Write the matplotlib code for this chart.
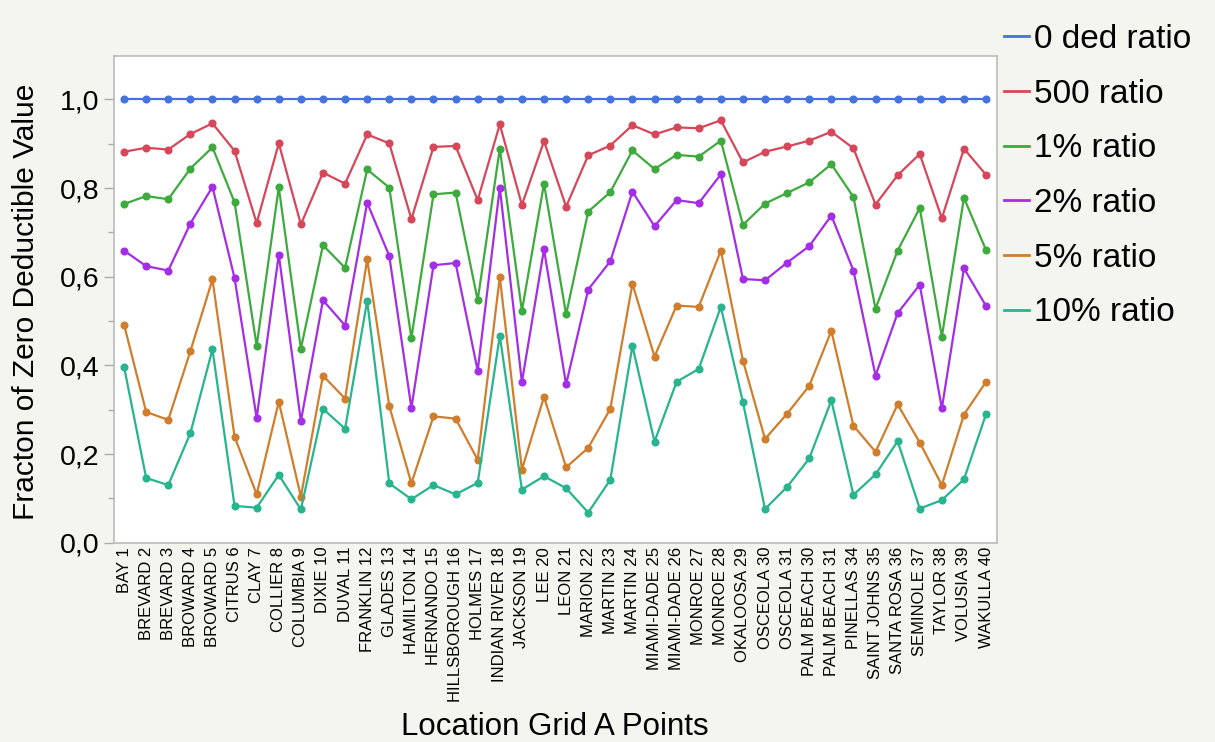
import numpy as np
import matplotlib
matplotlib.use("Agg")
import matplotlib.pyplot as plt
from matplotlib.ticker import FuncFormatter, MultipleLocator

plt.rcParams['font.family'] = ['Liberation Sans', 'DejaVu Sans']

locations = ["BAY 1", "BREVARD 2", "BREVARD 3", "BROWARD 4", "BROWARD 5", "CITRUS 6",
             "CLAY 7", "COLLIER 8", "COLUMBIA 9", "DIXIE 10", "DUVAL 11", "FRANKLIN 12",
             "GLADES 13", "HAMILTON 14", "HERNANDO 15", "HILLSBOROUGH 16", "HOLMES 17",
             "INDIAN RIVER 18", "JACKSON 19", "LEE 20", "LEON 21", "MARION 22", "MARTIN 23",
             "MARTIN 24", "MIAMI-DADE 25", "MIAMI-DADE 26", "MONROE 27", "MONROE 28",
             "OKALOOSA 29", "OSCEOLA 30", "OSCEOLA 31", "PALM BEACH 30", "PALM BEACH 31",
             "PINELLAS 34", "SAINT JOHNS 35", "SANTA ROSA 36", "SEMINOLE 37", "TAYLOR 38",
             "VOLUSIA 39", "WAKULLA 40"]

ded0 = [1.0] * 40
ded500 = [0.882, 0.891, 0.887, 0.922, 0.946, 0.884, 0.721, 0.901, 0.718, 0.835,
          0.810, 0.921, 0.901, 0.730, 0.893, 0.895, 0.773, 0.944, 0.762, 0.906,
          0.758, 0.874, 0.896, 0.942, 0.921, 0.937, 0.935, 0.953, 0.858, 0.882,
          0.894, 0.907, 0.927, 0.890, 0.763, 0.829, 0.877, 0.732, 0.889, 0.830]
ded1 = [0.764, 0.782, 0.775, 0.844, 0.892, 0.768, 0.444, 0.802, 0.438, 0.671,
        0.620, 0.842, 0.801, 0.462, 0.786, 0.790, 0.547, 0.889, 0.523, 0.810,
        0.515, 0.747, 0.791, 0.885, 0.843, 0.875, 0.871, 0.907, 0.717, 0.765,
        0.789, 0.813, 0.854, 0.780, 0.528, 0.659, 0.755, 0.465, 0.778, 0.660]
ded2 = [0.659, 0.624, 0.614, 0.720, 0.803, 0.597, 0.281, 0.650, 0.274, 0.547,
        0.490, 0.767, 0.647, 0.304, 0.626, 0.631, 0.388, 0.801, 0.362, 0.662,
        0.357, 0.571, 0.635, 0.792, 0.714, 0.773, 0.766, 0.831, 0.595, 0.592,
        0.632, 0.669, 0.738, 0.614, 0.377, 0.518, 0.582, 0.303, 0.619, 0.534]
ded5 = [0.492, 0.295, 0.277, 0.432, 0.594, 0.239, 0.109, 0.318, 0.104, 0.377,
        0.325, 0.639, 0.308, 0.134, 0.285, 0.280, 0.187, 0.600, 0.165, 0.329,
        0.170, 0.214, 0.302, 0.584, 0.420, 0.535, 0.532, 0.659, 0.411, 0.234,
        0.291, 0.354, 0.478, 0.264, 0.205, 0.312, 0.226, 0.130, 0.289, 0.363]
ded10 = [0.397, 0.146, 0.130, 0.247, 0.436, 0.083, 0.079, 0.153, 0.075, 0.302,
         0.257, 0.546, 0.134, 0.098, 0.130, 0.109, 0.135, 0.467, 0.120, 0.150,
         0.123, 0.068, 0.142, 0.444, 0.228, 0.363, 0.392, 0.532, 0.317, 0.076,
         0.126, 0.190, 0.321, 0.108, 0.154, 0.229, 0.077, 0.096, 0.143, 0.290]

series = [("0 ded ratio", ded0, "#4572DE"),
          ("500 ratio", ded500, "#D6475A"),
          ("1% ratio", ded1, "#3DAA3D"),
          ("2% ratio", ded2, "#A32EE6"),
          ("5% ratio", ded5, "#D07D2C"),
          ("10% ratio", ded10, "#27B48E")]

fig = plt.figure(figsize=(12.15, 7.42), dpi=100, facecolor="#F5F5F0")
ax = fig.add_axes([0.0941, 0.2686, 0.7262, 0.6559])
ax.set_facecolor("white")

x = np.arange(len(locations))
for name, vals, col in series:
    ax.plot(x, vals, color=col, lw=1.6, marker="o", ms=4.8, label=name)

ax.set_xlim(-0.44, 39.48)
ax.set_ylim(0, 1.098)
ax.yaxis.set_major_locator(MultipleLocator(0.2))
ax.yaxis.set_minor_locator(MultipleLocator(0.1))
ax.yaxis.set_major_formatter(FuncFormatter(lambda v, p: f"{v:.1f}".replace(".", ",")))
ax.tick_params(axis="y", which="major", length=7, width=1, color="#AAAAAA",
               labelsize=20.5, pad=4)
ax.tick_params(axis="y", which="minor", length=4, width=1, color="#AAAAAA")

ax.set_xticks(x)
ax.set_xticklabels(locations, rotation=90, fontsize=12, va="top")
ax.tick_params(axis="x", length=0, pad=3)

for s in ax.spines.values():
    s.set_color("#BBBBBB")
    s.set_linewidth(1.2)

ax.set_ylabel("Fracton of Zero Deductible Value", fontsize=21.5)
ax.yaxis.set_label_coords(-0.084, 0.495)
fig.text(0.457, 0.009, "Location Grid A Points", fontsize=22.5, ha="center", va="baseline")

leg = ax.legend(loc="upper left", bbox_to_anchor=(0.993, 1.093), frameon=False,
                fontsize=24, handlelength=0.75, handletextpad=0.15, labelspacing=0.71,
                borderaxespad=0.0)
for h in leg.get_lines():
    h.set_marker("")
    h.set_linewidth(2)

fig.savefig("out.png", dpi=100, facecolor=fig.get_facecolor())
